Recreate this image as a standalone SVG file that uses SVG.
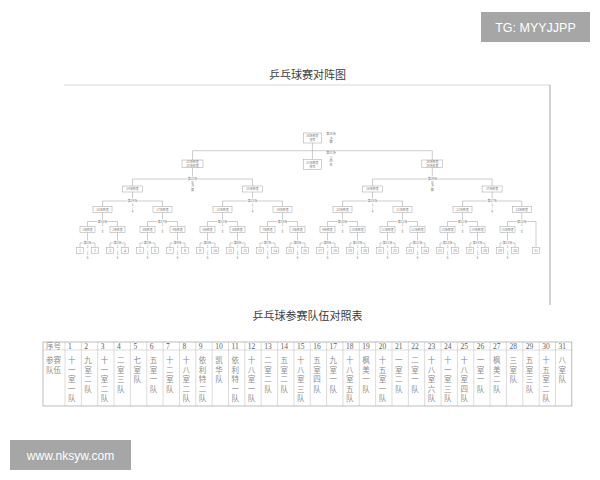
<svg xmlns="http://www.w3.org/2000/svg" width="600" height="480" viewBox="0 0 600 480">
<style>
.bg{fill:#fff}
.all{opacity:0.995}
.title{font-family:"Liberation Serif","Noto Sans CJK SC",serif;font-size:11px;fill:#3a3a3a;text-anchor:middle}
.conn path{fill:none;stroke:#9a9a9a;stroke-width:0.5}
.frame{fill:none;stroke:#cfcfcf;stroke-width:0.8}
.frameR{fill:none;stroke:#8a8a8a;stroke-width:0.8}
.node rect{fill:#fff;stroke:#a0a0a0;stroke-width:0.5}
.node text,.lbl text{font-family:"Noto Sans CJK SC","Liberation Sans",sans-serif;font-size:3px;fill:#808080;text-anchor:middle}
.leaf text{font-family:"Liberation Serif",serif;font-size:4px}
.lbl text.on{stroke:#fff;stroke-width:1.2px;paint-order:stroke}
.tbl{fill:none;stroke:#8f8f8f;stroke-width:0.6}
.tin{stroke:#b8b8b8;stroke-width:0.5}
.num{font-family:"Liberation Serif",serif;font-size:7.5px;fill:#606060}
.cj{font-family:"Noto Sans CJK SC",serif;font-size:7.5px;fill:#8c8c8c}
.wm{fill:#a6a6a6}
.wmt{font-family:"Liberation Sans","DejaVu Sans",sans-serif;fill:#fff;text-anchor:middle}
</style>
<rect class="bg" x="0" y="0" width="600" height="480"/>
<g class="all">
<text class="title" x="307.5" y="79">乒乓球赛对阵图</text>
<path class="frame" d="M64 85H550"/>
<path class="frameR" d="M550 85V305"/>

<g class="conn" id="connectors">
<path d="M80 247.5V243H95V247.5M87.5 243V232.5"/>
<path d="M110 247.5V243H125V247.5M117.5 243V232.5"/>
<path d="M140 247.5V243H155V247.5M147.5 243V232.5"/>
<path d="M170 247.5V243H185V247.5M177.5 243V232.5"/>
<path d="M200 247.5V243H215V247.5M207.5 243V232.5"/>
<path d="M230 247.5V243H245V247.5M237.5 243V232.5"/>
<path d="M260 247.5V243H275V247.5M267.5 243V232.5"/>
<path d="M290 247.5V243H305V247.5M297.5 243V232.5"/>
<path d="M320 247.5V243H335V247.5M327.5 243V232.5"/>
<path d="M350 247.5V243H365V247.5M357.5 243V232.5"/>
<path d="M380 247.5V243H395V247.5M387.5 243V232.5"/>
<path d="M410 247.5V243H425V247.5M417.5 243V232.5"/>
<path d="M440 247.5V243H455V247.5M447.5 243V232.5"/>
<path d="M470 247.5V243H485V247.5M477.5 243V232.5"/>
<path d="M500 247.5V243H515V247.5M507.5 243V232.5"/>

<path d="M87.5 226.5V221.5H117.5V226.5M102.5 221.5V212.5"/>
<path d="M147.5 226.5V221.5H177.5V226.5M162.5 221.5V212.5"/>
<path d="M207.5 226.5V221.5H237.5V226.5M222.5 221.5V212.5"/>
<path d="M267.5 226.5V221.5H297.5V226.5M282.5 221.5V212.5"/>
<path d="M327.5 226.5V221.5H357.5V226.5M342.5 221.5V212.5"/>
<path d="M387.5 226.5V221.5H417.5V226.5M402.5 221.5V212.5"/>
<path d="M447.5 226.5V221.5H477.5V226.5M462.5 221.5V212.5"/>
<path d="M507.5 226.5V221.5H536V247.5M521.75 221.5V212.5"/>

<path d="M102.5 206.5V201H162.5V206.5M132.5 201V192"/>
<path d="M222.5 206.5V201H282.5V206.5M252.5 201V192"/>
<path d="M342.5 206.5V201H402.5V206.5M372.5 201V192"/>
<path d="M462.5 206.5V201H521.75V206.5M492.1 201V192"/>

<path d="M132.5 186V179H252.5V186M192.5 179V167.5"/>
<path d="M372.5 186V179H492.1V186M432.3 179V167.5"/>

<path d="M192.5 160V150.7H432.3V160"/>
<path d="M312.4 143V159.3"/>
</g>

<g class="lbl" id="match-labels">
<text class="on" x="87.5" y="244.1">第1场</text><text x="87.5" y="248"><tspan x="87.5" y="248">1</tspan><tspan x="87.5" y="251.5">/</tspan><tspan x="87.5" y="255">1</tspan><tspan x="87.5" y="258.5">6</tspan></text>
<text class="on" x="117.5" y="244.1">第2场</text><text x="117.5" y="248"><tspan x="117.5" y="248">1</tspan><tspan x="117.5" y="251.5">/</tspan><tspan x="117.5" y="255">1</tspan><tspan x="117.5" y="258.5">6</tspan></text>
<text class="on" x="147.5" y="244.1">第3场</text><text x="147.5" y="248"><tspan x="147.5" y="248">1</tspan><tspan x="147.5" y="251.5">/</tspan><tspan x="147.5" y="255">1</tspan><tspan x="147.5" y="258.5">6</tspan></text>
<text class="on" x="177.5" y="244.1">第4场</text><text x="177.5" y="248"><tspan x="177.5" y="248">1</tspan><tspan x="177.5" y="251.5">/</tspan><tspan x="177.5" y="255">1</tspan><tspan x="177.5" y="258.5">6</tspan></text>
<text class="on" x="207.5" y="244.1">第5场</text><text x="207.5" y="248"><tspan x="207.5" y="248">1</tspan><tspan x="207.5" y="251.5">/</tspan><tspan x="207.5" y="255">1</tspan><tspan x="207.5" y="258.5">6</tspan></text>
<text class="on" x="237.5" y="244.1">第6场</text><text x="237.5" y="248"><tspan x="237.5" y="248">1</tspan><tspan x="237.5" y="251.5">/</tspan><tspan x="237.5" y="255">1</tspan><tspan x="237.5" y="258.5">6</tspan></text>
<text class="on" x="267.5" y="244.1">第7场</text><text x="267.5" y="248"><tspan x="267.5" y="248">1</tspan><tspan x="267.5" y="251.5">/</tspan><tspan x="267.5" y="255">1</tspan><tspan x="267.5" y="258.5">6</tspan></text>
<text class="on" x="297.5" y="244.1">第8场</text><text x="297.5" y="248"><tspan x="297.5" y="248">1</tspan><tspan x="297.5" y="251.5">/</tspan><tspan x="297.5" y="255">1</tspan><tspan x="297.5" y="258.5">6</tspan></text>
<text class="on" x="327.5" y="244.1">第9场</text><text x="327.5" y="248"><tspan x="327.5" y="248">1</tspan><tspan x="327.5" y="251.5">/</tspan><tspan x="327.5" y="255">1</tspan><tspan x="327.5" y="258.5">6</tspan></text>
<text class="on" x="357.5" y="244.1">第10场</text><text x="357.5" y="248"><tspan x="357.5" y="248">1</tspan><tspan x="357.5" y="251.5">/</tspan><tspan x="357.5" y="255">1</tspan><tspan x="357.5" y="258.5">6</tspan></text>
<text class="on" x="387.5" y="244.1">第11场</text><text x="387.5" y="248"><tspan x="387.5" y="248">1</tspan><tspan x="387.5" y="251.5">/</tspan><tspan x="387.5" y="255">1</tspan><tspan x="387.5" y="258.5">6</tspan></text>
<text class="on" x="417.5" y="244.1">第12场</text><text x="417.5" y="248"><tspan x="417.5" y="248">1</tspan><tspan x="417.5" y="251.5">/</tspan><tspan x="417.5" y="255">1</tspan><tspan x="417.5" y="258.5">6</tspan></text>
<text class="on" x="447.5" y="244.1">第13场</text><text x="447.5" y="248"><tspan x="447.5" y="248">1</tspan><tspan x="447.5" y="251.5">/</tspan><tspan x="447.5" y="255">1</tspan><tspan x="447.5" y="258.5">6</tspan></text>
<text class="on" x="477.5" y="244.1">第14场</text><text x="477.5" y="248"><tspan x="477.5" y="248">1</tspan><tspan x="477.5" y="251.5">/</tspan><tspan x="477.5" y="255">1</tspan><tspan x="477.5" y="258.5">6</tspan></text>
<text class="on" x="507.5" y="244.1">第15场</text><text x="507.5" y="248"><tspan x="507.5" y="248">1</tspan><tspan x="507.5" y="251.5">/</tspan><tspan x="507.5" y="255">1</tspan><tspan x="507.5" y="258.5">6</tspan></text>

<text class="on" x="102.5" y="222.6">第16场</text><text x="102.5" y="226"><tspan x="102.5" y="226">1</tspan><tspan x="102.5" y="229.5">/</tspan><tspan x="102.5" y="233">8</tspan></text>
<text class="on" x="162.5" y="222.6">第17场</text><text x="162.5" y="226"><tspan x="162.5" y="226">1</tspan><tspan x="162.5" y="229.5">/</tspan><tspan x="162.5" y="233">8</tspan></text>
<text class="on" x="222.5" y="222.6">第18场</text><text x="222.5" y="226"><tspan x="222.5" y="226">1</tspan><tspan x="222.5" y="229.5">/</tspan><tspan x="222.5" y="233">8</tspan></text>
<text class="on" x="282.5" y="222.6">第19场</text><text x="282.5" y="226"><tspan x="282.5" y="226">1</tspan><tspan x="282.5" y="229.5">/</tspan><tspan x="282.5" y="233">8</tspan></text>
<text class="on" x="342.5" y="222.6">第20场</text><text x="342.5" y="226"><tspan x="342.5" y="226">1</tspan><tspan x="342.5" y="229.5">/</tspan><tspan x="342.5" y="233">8</tspan></text>
<text class="on" x="402.5" y="222.6">第21场</text><text x="402.5" y="226"><tspan x="402.5" y="226">1</tspan><tspan x="402.5" y="229.5">/</tspan><tspan x="402.5" y="233">8</tspan></text>
<text class="on" x="462.5" y="222.6">第22场</text><text x="462.5" y="226"><tspan x="462.5" y="226">1</tspan><tspan x="462.5" y="229.5">/</tspan><tspan x="462.5" y="233">8</tspan></text>
<text class="on" x="521.75" y="222.6">第23场</text><text x="521.75" y="226"><tspan x="521.75" y="226">1</tspan><tspan x="521.75" y="229.5">/</tspan><tspan x="521.75" y="233">8</tspan></text>

<text class="on" x="132.5" y="202.1">第24场</text><text x="132.5" y="205.5"><tspan x="132.5" y="205.5">1</tspan><tspan x="132.5" y="209">/</tspan><tspan x="132.5" y="212.5">4</tspan></text>
<text class="on" x="252.5" y="202.1">第25场</text><text x="252.5" y="205.5"><tspan x="252.5" y="205.5">1</tspan><tspan x="252.5" y="209">/</tspan><tspan x="252.5" y="212.5">4</tspan></text>
<text class="on" x="372.5" y="202.1">第26场</text><text x="372.5" y="205.5"><tspan x="372.5" y="205.5">1</tspan><tspan x="372.5" y="209">/</tspan><tspan x="372.5" y="212.5">4</tspan></text>
<text class="on" x="492.1" y="202.1">第27场</text><text x="492.1" y="205.5"><tspan x="492.1" y="205.5">1</tspan><tspan x="492.1" y="209">/</tspan><tspan x="492.1" y="212.5">4</tspan></text>

<text class="on" x="192.5" y="180.1">第28场</text><text x="192.5" y="183.5"><tspan x="192.5" y="183.5">半</tspan><tspan x="192.5" y="187">决</tspan><tspan x="192.5" y="190.5">赛</tspan></text>
<text class="on" x="432.3" y="180.1">第29场</text><text x="432.3" y="183.5"><tspan x="432.3" y="183.5">半</tspan><tspan x="432.3" y="187">决</tspan><tspan x="432.3" y="190.5">赛</tspan></text>

<text x="331" y="135">第30场</text><text x="331" y="139.5"><tspan x="331" y="139.5">决</tspan><tspan x="331" y="143">赛</tspan></text>
<text x="331" y="154">第31场</text><text x="331" y="158.5"><tspan x="331" y="158.5">三</tspan><tspan x="331" y="162">四</tspan><tspan x="331" y="165.5">名</tspan></text>
</g>

<g id="final" class="node"><rect x="303.4" y="133" width="18" height="10"/><text x="312.4" y="137.2">30场胜者</text><text x="312.4" y="141.2">冠军</text></g>
<g id="third" class="node"><rect x="303.4" y="159.3" width="18" height="10"/><text x="312.4" y="163.5">31场胜者</text><text x="312.4" y="167.5">季军</text></g>

<g id="sf1" class="node"><rect x="182" y="160" width="21" height="7.5"/><text x="192.5" y="163.2">28场胜者</text><text x="192.5" y="166.6">28场败者</text></g>
<g id="sf2" class="node"><rect x="421.8" y="160" width="21" height="7.5"/><text x="432.3" y="163.2">29场胜者</text><text x="432.3" y="166.6">29场败者</text></g>

<g id="qf1" class="node"><rect x="122.5" y="186" width="20" height="6"/><text x="132.5" y="190">24场胜者</text></g>
<g id="qf2" class="node"><rect x="242.5" y="186" width="20" height="6"/><text x="252.5" y="190">25场胜者</text></g>
<g id="qf3" class="node"><rect x="362.5" y="186" width="20" height="6"/><text x="372.5" y="190">26场胜者</text></g>
<g id="qf4" class="node"><rect x="482.1" y="186" width="20" height="6"/><text x="492.1" y="190">27场胜者</text></g>

<g id="r2w1" class="node"><rect x="93" y="206.5" width="19" height="6"/><text x="102.5" y="210.5">16场胜者</text></g>
<g id="r2w2" class="node"><rect x="153" y="206.5" width="19" height="6"/><text x="162.5" y="210.5">17场胜者</text></g>
<g id="r2w3" class="node"><rect x="213" y="206.5" width="19" height="6"/><text x="222.5" y="210.5">18场胜者</text></g>
<g id="r2w4" class="node"><rect x="273" y="206.5" width="19" height="6"/><text x="282.5" y="210.5">19场胜者</text></g>
<g id="r2w5" class="node"><rect x="333" y="206.5" width="19" height="6"/><text x="342.5" y="210.5">20场胜者</text></g>
<g id="r2w6" class="node"><rect x="393" y="206.5" width="19" height="6"/><text x="402.5" y="210.5">21场胜者</text></g>
<g id="r2w7" class="node"><rect x="453" y="206.5" width="19" height="6"/><text x="462.5" y="210.5">22场胜者</text></g>
<g id="r2w8" class="node"><rect x="512.25" y="206.5" width="19" height="6"/><text x="521.75" y="210.5">23场胜者</text></g>

<g id="r1w1" class="node"><rect x="80" y="226.5" width="15" height="6"/><text x="87.5" y="230.5">1场胜者</text></g>
<g id="r1w2" class="node"><rect x="110" y="226.5" width="15" height="6"/><text x="117.5" y="230.5">2场胜者</text></g>
<g id="r1w3" class="node"><rect x="140" y="226.5" width="15" height="6"/><text x="147.5" y="230.5">3场胜者</text></g>
<g id="r1w4" class="node"><rect x="170" y="226.5" width="15" height="6"/><text x="177.5" y="230.5">4场胜者</text></g>
<g id="r1w5" class="node"><rect x="200" y="226.5" width="15" height="6"/><text x="207.5" y="230.5">5场胜者</text></g>
<g id="r1w6" class="node"><rect x="230" y="226.5" width="15" height="6"/><text x="237.5" y="230.5">6场胜者</text></g>
<g id="r1w7" class="node"><rect x="260" y="226.5" width="15" height="6"/><text x="267.5" y="230.5">7场胜者</text></g>
<g id="r1w8" class="node"><rect x="290" y="226.5" width="15" height="6"/><text x="297.5" y="230.5">8场胜者</text></g>
<g id="r1w9" class="node"><rect x="320" y="226.5" width="15" height="6"/><text x="327.5" y="230.5">9场胜者</text></g>
<g id="r1w10" class="node"><rect x="350" y="226.5" width="15" height="6"/><text x="357.5" y="230.5">10场胜者</text></g>
<g id="r1w11" class="node"><rect x="380" y="226.5" width="15" height="6"/><text x="387.5" y="230.5">11场胜者</text></g>
<g id="r1w12" class="node"><rect x="410" y="226.5" width="15" height="6"/><text x="417.5" y="230.5">12场胜者</text></g>
<g id="r1w13" class="node"><rect x="440" y="226.5" width="15" height="6"/><text x="447.5" y="230.5">13场胜者</text></g>
<g id="r1w14" class="node"><rect x="470" y="226.5" width="15" height="6"/><text x="477.5" y="230.5">14场胜者</text></g>
<g id="r1w15" class="node"><rect x="500" y="226.5" width="15" height="6"/><text x="507.5" y="230.5">15场胜者</text></g>

<g id="t1" class="node leaf"><rect x="76.5" y="247.5" width="7" height="6"/><text x="80" y="251.9">1</text></g>
<g id="t2" class="node leaf"><rect x="91.5" y="247.5" width="7" height="6"/><text x="95" y="251.9">2</text></g>
<g id="t3" class="node leaf"><rect x="106.5" y="247.5" width="7" height="6"/><text x="110" y="251.9">3</text></g>
<g id="t4" class="node leaf"><rect x="121.5" y="247.5" width="7" height="6"/><text x="125" y="251.9">4</text></g>
<g id="t5" class="node leaf"><rect x="136.5" y="247.5" width="7" height="6"/><text x="140" y="251.9">5</text></g>
<g id="t6" class="node leaf"><rect x="151.5" y="247.5" width="7" height="6"/><text x="155" y="251.9">6</text></g>
<g id="t7" class="node leaf"><rect x="166.5" y="247.5" width="7" height="6"/><text x="170" y="251.9">7</text></g>
<g id="t8" class="node leaf"><rect x="181.5" y="247.5" width="7" height="6"/><text x="185" y="251.9">8</text></g>
<g id="t9" class="node leaf"><rect x="196.5" y="247.5" width="7" height="6"/><text x="200" y="251.9">9</text></g>
<g id="t10" class="node leaf"><rect x="211.5" y="247.5" width="7" height="6"/><text x="215" y="251.9">10</text></g>
<g id="t11" class="node leaf"><rect x="226.5" y="247.5" width="7" height="6"/><text x="230" y="251.9">11</text></g>
<g id="t12" class="node leaf"><rect x="241.5" y="247.5" width="7" height="6"/><text x="245" y="251.9">12</text></g>
<g id="t13" class="node leaf"><rect x="256.5" y="247.5" width="7" height="6"/><text x="260" y="251.9">13</text></g>
<g id="t14" class="node leaf"><rect x="271.5" y="247.5" width="7" height="6"/><text x="275" y="251.9">14</text></g>
<g id="t15" class="node leaf"><rect x="286.5" y="247.5" width="7" height="6"/><text x="290" y="251.9">15</text></g>
<g id="t16" class="node leaf"><rect x="301.5" y="247.5" width="7" height="6"/><text x="305" y="251.9">16</text></g>
<g id="t17" class="node leaf"><rect x="316.5" y="247.5" width="7" height="6"/><text x="320" y="251.9">17</text></g>
<g id="t18" class="node leaf"><rect x="331.5" y="247.5" width="7" height="6"/><text x="335" y="251.9">18</text></g>
<g id="t19" class="node leaf"><rect x="346.5" y="247.5" width="7" height="6"/><text x="350" y="251.9">19</text></g>
<g id="t20" class="node leaf"><rect x="361.5" y="247.5" width="7" height="6"/><text x="365" y="251.9">20</text></g>
<g id="t21" class="node leaf"><rect x="376.5" y="247.5" width="7" height="6"/><text x="380" y="251.9">21</text></g>
<g id="t22" class="node leaf"><rect x="391.5" y="247.5" width="7" height="6"/><text x="395" y="251.9">22</text></g>
<g id="t23" class="node leaf"><rect x="406.5" y="247.5" width="7" height="6"/><text x="410" y="251.9">23</text></g>
<g id="t24" class="node leaf"><rect x="421.5" y="247.5" width="7" height="6"/><text x="425" y="251.9">24</text></g>
<g id="t25" class="node leaf"><rect x="436.5" y="247.5" width="7" height="6"/><text x="440" y="251.9">25</text></g>
<g id="t26" class="node leaf"><rect x="451.5" y="247.5" width="7" height="6"/><text x="455" y="251.9">26</text></g>
<g id="t27" class="node leaf"><rect x="466.5" y="247.5" width="7" height="6"/><text x="470" y="251.9">27</text></g>
<g id="t28" class="node leaf"><rect x="481.5" y="247.5" width="7" height="6"/><text x="485" y="251.9">28</text></g>
<g id="t29" class="node leaf"><rect x="496.5" y="247.5" width="7" height="6"/><text x="500" y="251.9">29</text></g>
<g id="t30" class="node leaf"><rect x="511.5" y="247.5" width="7" height="6"/><text x="515" y="251.9">30</text></g>
<g id="t31" class="node leaf"><rect x="532.5" y="247.5" width="7" height="6"/><text x="536" y="251.9">31</text></g>

<text class="title" x="307.5" y="320">乒乓球参赛队伍对照表</text>

<g id="table">
<path class="tin" d="M43 350H571.85M65 342V406M81.35 342V406M97.7 342V406M114.05 342V406M130.4 342V406M146.75 342V406M163.1 342V406M179.45 342V406M195.8 342V406M212.15 342V406M228.5 342V406M244.85 342V406M261.2 342V406M277.55 342V406M293.9 342V406M310.25 342V406M326.6 342V406M342.95 342V406M359.3 342V406M375.65 342V406M392 342V406M408.35 342V406M424.7 342V406M441.05 342V406M457.4 342V406M473.75 342V406M490.1 342V406M506.45 342V406M522.8 342V406M539.15 342V406M555.5 342V406"/>
<rect class="tbl" x="43" y="342" width="528.85" height="64"/>
<text class="cj" x="46" y="348.8">序号</text>
<text class="cj" x="46" y="363">参赛</text>
<text class="cj" x="46" y="372.5">队伍</text>
<g class="num">
<text x="68" y="348.8">1</text><text x="84.35" y="348.8">2</text><text x="100.7" y="348.8">3</text><text x="117.05" y="348.8">4</text><text x="133.4" y="348.8">5</text><text x="149.75" y="348.8">6</text><text x="166.1" y="348.8">7</text><text x="182.45" y="348.8">8</text><text x="198.8" y="348.8">9</text><text x="215.15" y="348.8">10</text><text x="231.5" y="348.8">11</text><text x="247.85" y="348.8">12</text><text x="264.2" y="348.8">13</text><text x="280.55" y="348.8">14</text><text x="296.9" y="348.8">15</text><text x="313.25" y="348.8">16</text><text x="329.6" y="348.8">17</text><text x="345.95" y="348.8">18</text><text x="362.3" y="348.8">19</text><text x="378.65" y="348.8">20</text><text x="395" y="348.8">21</text><text x="411.35" y="348.8">22</text><text x="427.7" y="348.8">23</text><text x="444.05" y="348.8">24</text><text x="460.4" y="348.8">25</text><text x="476.75" y="348.8">26</text><text x="493.1" y="348.8">27</text><text x="509.45" y="348.8">28</text><text x="525.8" y="348.8">29</text><text x="542.15" y="348.8">30</text><text x="558.5" y="348.8">31</text>
</g>
<g class="cj">
<text x="68" y="363"><tspan x="68" y="363">十</tspan><tspan x="68" y="372.5">一</tspan><tspan x="68" y="382">室</tspan><tspan x="68" y="391.5">一</tspan><tspan x="68" y="401">队</tspan></text>
<text x="84.35" y="363"><tspan x="84.35" y="363">九</tspan><tspan x="84.35" y="372.5">室</tspan><tspan x="84.35" y="382">二</tspan><tspan x="84.35" y="391.5">队</tspan></text>
<text x="100.7" y="363"><tspan x="100.7" y="363">十</tspan><tspan x="100.7" y="372.5">一</tspan><tspan x="100.7" y="382">室</tspan><tspan x="100.7" y="391.5">二</tspan><tspan x="100.7" y="401">队</tspan></text>
<text x="117.05" y="363"><tspan x="117.05" y="363">二</tspan><tspan x="117.05" y="372.5">室</tspan><tspan x="117.05" y="382">三</tspan><tspan x="117.05" y="391.5">队</tspan></text>
<text x="133.4" y="363"><tspan x="133.4" y="363">七</tspan><tspan x="133.4" y="372.5">室</tspan><tspan x="133.4" y="382">队</tspan></text>
<text x="149.75" y="363"><tspan x="149.75" y="363">五</tspan><tspan x="149.75" y="372.5">室</tspan><tspan x="149.75" y="382">一</tspan><tspan x="149.75" y="391.5">队</tspan></text>
<text x="166.1" y="363"><tspan x="166.1" y="363">十</tspan><tspan x="166.1" y="372.5">二</tspan><tspan x="166.1" y="382">室</tspan><tspan x="166.1" y="391.5">队</tspan></text>
<text x="182.45" y="363"><tspan x="182.45" y="363">十</tspan><tspan x="182.45" y="372.5">八</tspan><tspan x="182.45" y="382">室</tspan><tspan x="182.45" y="391.5">二</tspan><tspan x="182.45" y="401">队</tspan></text>
<text x="198.8" y="363"><tspan x="198.8" y="363">依</tspan><tspan x="198.8" y="372.5">利</tspan><tspan x="198.8" y="382">特</tspan><tspan x="198.8" y="391.5">二</tspan><tspan x="198.8" y="401">队</tspan></text>
<text x="215.15" y="363"><tspan x="215.15" y="363">凯</tspan><tspan x="215.15" y="372.5">华</tspan><tspan x="215.15" y="382">队</tspan></text>
<text x="231.5" y="363"><tspan x="231.5" y="363">依</tspan><tspan x="231.5" y="372.5">利</tspan><tspan x="231.5" y="382">特</tspan><tspan x="231.5" y="391.5">一</tspan><tspan x="231.5" y="401">队</tspan></text>
<text x="247.85" y="363"><tspan x="247.85" y="363">十</tspan><tspan x="247.85" y="372.5">八</tspan><tspan x="247.85" y="382">室</tspan><tspan x="247.85" y="391.5">一</tspan><tspan x="247.85" y="401">队</tspan></text>
<text x="264.2" y="363"><tspan x="264.2" y="363">二</tspan><tspan x="264.2" y="372.5">室</tspan><tspan x="264.2" y="382">二</tspan><tspan x="264.2" y="391.5">队</tspan></text>
<text x="280.55" y="363"><tspan x="280.55" y="363">五</tspan><tspan x="280.55" y="372.5">室</tspan><tspan x="280.55" y="382">二</tspan><tspan x="280.55" y="391.5">队</tspan></text>
<text x="296.9" y="363"><tspan x="296.9" y="363">十</tspan><tspan x="296.9" y="372.5">八</tspan><tspan x="296.9" y="382">室</tspan><tspan x="296.9" y="391.5">三</tspan><tspan x="296.9" y="401">队</tspan></text>
<text x="313.25" y="363"><tspan x="313.25" y="363">五</tspan><tspan x="313.25" y="372.5">室</tspan><tspan x="313.25" y="382">四</tspan><tspan x="313.25" y="391.5">队</tspan></text>
<text x="329.6" y="363"><tspan x="329.6" y="363">九</tspan><tspan x="329.6" y="372.5">室</tspan><tspan x="329.6" y="382">一</tspan><tspan x="329.6" y="391.5">队</tspan></text>
<text x="345.95" y="363"><tspan x="345.95" y="363">十</tspan><tspan x="345.95" y="372.5">八</tspan><tspan x="345.95" y="382">室</tspan><tspan x="345.95" y="391.5">五</tspan><tspan x="345.95" y="401">队</tspan></text>
<text x="362.3" y="363"><tspan x="362.3" y="363">枫</tspan><tspan x="362.3" y="372.5">美</tspan><tspan x="362.3" y="382">一</tspan><tspan x="362.3" y="391.5">队</tspan></text>
<text x="378.65" y="363"><tspan x="378.65" y="363">十</tspan><tspan x="378.65" y="372.5">五</tspan><tspan x="378.65" y="382">室</tspan><tspan x="378.65" y="391.5">一</tspan><tspan x="378.65" y="401">队</tspan></text>
<text x="395" y="363"><tspan x="395" y="363">一</tspan><tspan x="395" y="372.5">室</tspan><tspan x="395" y="382">二</tspan><tspan x="395" y="391.5">队</tspan></text>
<text x="411.35" y="363"><tspan x="411.35" y="363">二</tspan><tspan x="411.35" y="372.5">室</tspan><tspan x="411.35" y="382">一</tspan><tspan x="411.35" y="391.5">队</tspan></text>
<text x="427.7" y="363"><tspan x="427.7" y="363">十</tspan><tspan x="427.7" y="372.5">八</tspan><tspan x="427.7" y="382">室</tspan><tspan x="427.7" y="391.5">六</tspan><tspan x="427.7" y="401">队</tspan></text>
<text x="444.05" y="363"><tspan x="444.05" y="363">十</tspan><tspan x="444.05" y="372.5">一</tspan><tspan x="444.05" y="382">室</tspan><tspan x="444.05" y="391.5">三</tspan><tspan x="444.05" y="401">队</tspan></text>
<text x="460.4" y="363"><tspan x="460.4" y="363">十</tspan><tspan x="460.4" y="372.5">八</tspan><tspan x="460.4" y="382">室</tspan><tspan x="460.4" y="391.5">四</tspan><tspan x="460.4" y="401">队</tspan></text>
<text x="476.75" y="363"><tspan x="476.75" y="363">一</tspan><tspan x="476.75" y="372.5">室</tspan><tspan x="476.75" y="382">一</tspan><tspan x="476.75" y="391.5">队</tspan></text>
<text x="493.1" y="363"><tspan x="493.1" y="363">枫</tspan><tspan x="493.1" y="372.5">美</tspan><tspan x="493.1" y="382">二</tspan><tspan x="493.1" y="391.5">队</tspan></text>
<text x="509.45" y="363"><tspan x="509.45" y="363">三</tspan><tspan x="509.45" y="372.5">室</tspan><tspan x="509.45" y="382">队</tspan></text>
<text x="525.8" y="363"><tspan x="525.8" y="363">五</tspan><tspan x="525.8" y="372.5">室</tspan><tspan x="525.8" y="382">三</tspan><tspan x="525.8" y="391.5">队</tspan></text>
<text x="542.15" y="363"><tspan x="542.15" y="363">十</tspan><tspan x="542.15" y="372.5">五</tspan><tspan x="542.15" y="382">室</tspan><tspan x="542.15" y="391.5">二</tspan><tspan x="542.15" y="401">队</tspan></text>
<text x="558.5" y="363"><tspan x="558.5" y="363">八</tspan><tspan x="558.5" y="372.5">室</tspan><tspan x="558.5" y="382">队</tspan></text>
</g>
</g>

<g id="watermark-top">
<rect class="wm" x="481" y="12" width="109" height="30"/>
<text class="wmt" x="535.5" y="32" font-size="12.5">TG: MYYJJPP</text>
</g>
<g id="watermark-bottom">
<rect class="wm" x="10" y="440" width="121" height="30"/>
<text class="wmt" x="70.5" y="459.5" font-size="12">www.nksyw.com</text>
</g>
</g>
</svg>
